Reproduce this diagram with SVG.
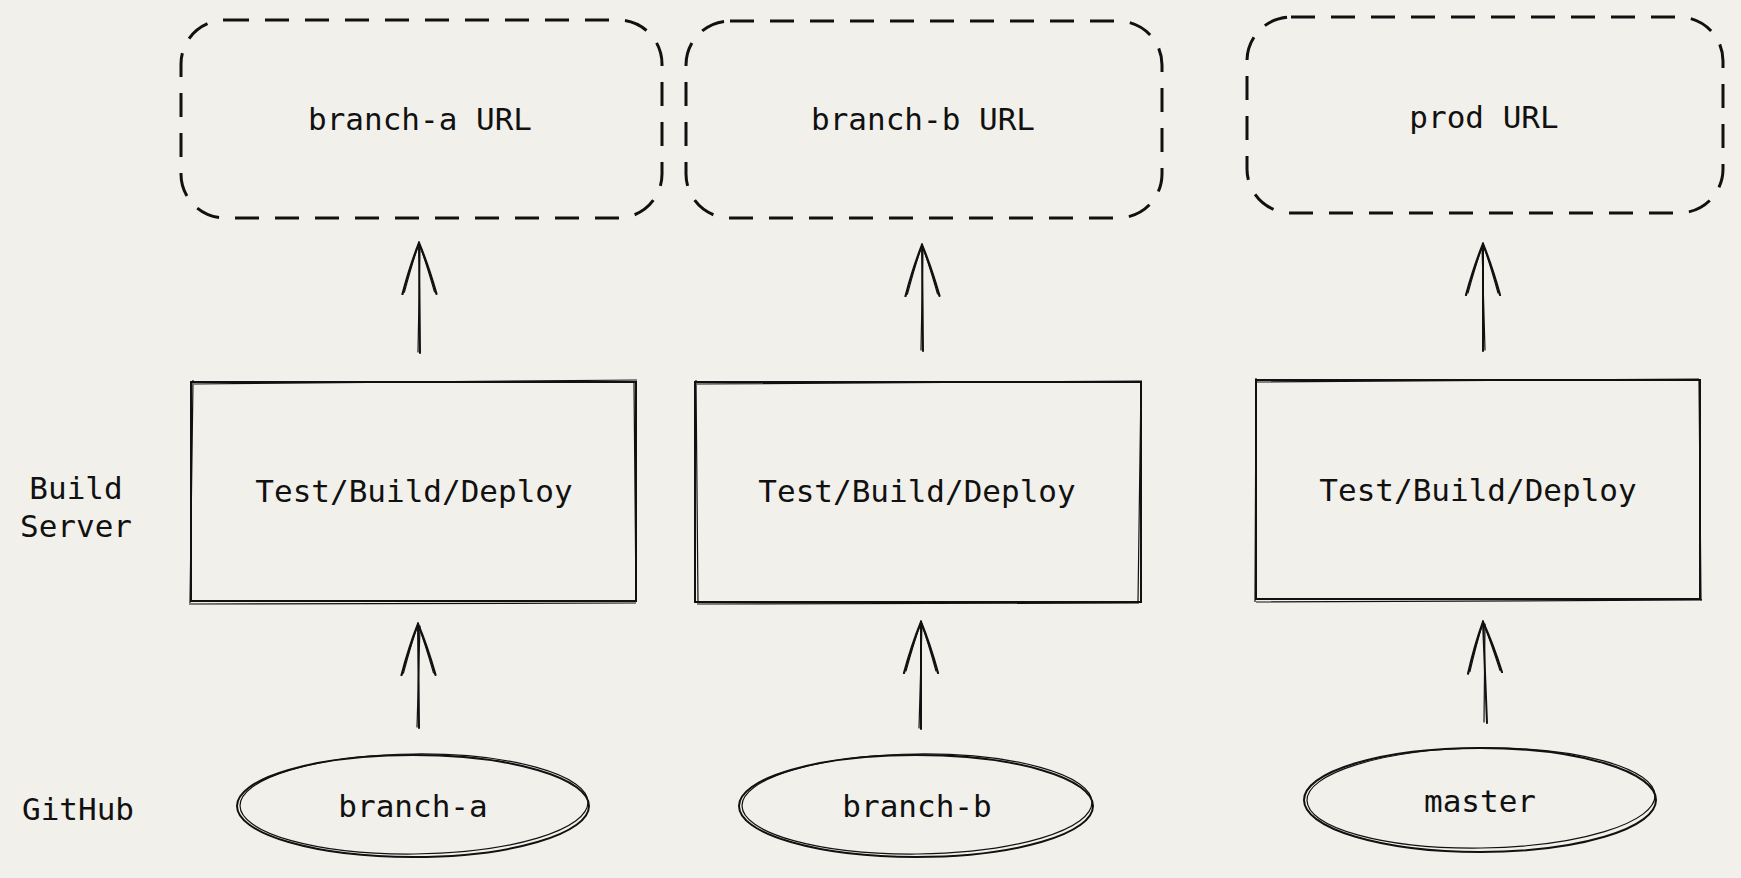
<svg xmlns="http://www.w3.org/2000/svg" width="1741" height="878" viewBox="0 0 1741 878">
<style>
.bg{fill:#f2f0ea}
.t{font-family:"DejaVu Sans Mono","Liberation Mono",monospace;font-size:31px;fill:#111;text-anchor:middle}
.dash{fill:none;stroke:#111;stroke-width:3;stroke-dasharray:24 16;stroke-linecap:butt}
.box{fill:none;stroke:#111;stroke-width:2}
.box2{fill:none;stroke:#111;stroke-width:1.2}
.ln{fill:none;stroke:#111;stroke-width:2;stroke-linecap:round}
.ln2{fill:none;stroke:#111;stroke-width:1.2;stroke-linecap:round}
</style>
<defs>
<marker id="head" viewBox="0 0 54 42" refX="52" refY="21" markerWidth="54" markerHeight="42" markerUnits="userSpaceOnUse" orient="auto">
<path d="M1,4 Q30,12 52,21 Q30,30 1,38" fill="none" stroke="#111" stroke-width="2.2" stroke-linecap="round"/>
<path d="M3,6 Q32,14 52,21 Q32,28 3,36" fill="none" stroke="#111" stroke-width="1.2" stroke-linecap="round"/>
</marker>
</defs>
<rect class="bg" x="0" y="0" width="1741" height="878"/>

<g id="lane-labels">
<text class="t" x="76" y="499">Build</text>
<text class="t" x="76" y="537">Server</text>
<text class="t" x="78" y="820">GitHub</text>
</g>

<g id="url-a">
<rect class="dash" x="181" y="20" width="481" height="198" rx="44"/>
<text class="t" x="420" y="130">branch-a URL</text>
</g>
<g id="url-b">
<rect class="dash" x="686" y="21" width="476" height="197" rx="44"/>
<text class="t" x="923" y="130">branch-b URL</text>
</g>
<g id="url-prod">
<rect class="dash" x="1247" y="17" width="476" height="196" rx="44"/>
<text class="t" x="1484" y="128">prod URL</text>
</g>

<g id="build-a">
<rect class="box" x="191" y="382" width="445" height="219"/>
<path class="box2" d="M194,384 L637,380 M193,380 L190,603 M189,604 L636,603 M634,383 L636,600"/>
<text class="t" x="414" y="502">Test/Build/Deploy</text>
</g>
<g id="build-b">
<rect class="box" x="695" y="382" width="446" height="220"/>
<path class="box2" d="M697,384 L1142,381 M696,380 L698,602 M697,604 L1139,603 M1141,383 L1138,602"/>
<text class="t" x="917" y="502">Test/Build/Deploy</text>
</g>
<g id="build-prod">
<rect class="box" x="1256" y="380" width="444" height="219"/>
<path class="box2" d="M1257,382 L1699,379 M1256,378 L1255,602 M1256,602 L1702,600 M1699,381 L1701,601"/>
<text class="t" x="1478" y="501">Test/Build/Deploy</text>
</g>

<g id="branch-a">
<ellipse class="box" cx="413" cy="806" rx="176" ry="51"/>
<ellipse class="box2" cx="414" cy="804" rx="174" ry="50" transform="rotate(-0.6 414 804)"/>
<text class="t" x="413" y="817">branch-a</text>
</g>
<g id="branch-b">
<ellipse class="box" cx="916" cy="806" rx="177" ry="51"/>
<ellipse class="box2" cx="917" cy="804" rx="175" ry="50" transform="rotate(-0.6 917 804)"/>
<text class="t" x="917" y="817">branch-b</text>
</g>
<g id="master">
<ellipse class="box" cx="1480" cy="800" rx="176" ry="52"/>
<ellipse class="box2" cx="1481" cy="798" rx="174" ry="50" transform="rotate(-0.8 1481 798)"/>
<text class="t" x="1480" y="812">master</text>
</g>

<g id="connectors">
<path class="ln" d="M420,353 L419,243" marker-end="url(#head)"/>
<path class="ln2" d="M418,352 L420,245"/>
<path class="ln" d="M923,351 L922,245" marker-end="url(#head)"/>
<path class="ln2" d="M921,350 L923,247"/>
<path class="ln" d="M1483,351 L1483,244" marker-end="url(#head)"/>
<path class="ln2" d="M1485,350 L1482,246"/>
<path class="ln" d="M419,728 L418,624" marker-end="url(#head)"/>
<path class="ln2" d="M417,727 L420,626"/>
<path class="ln" d="M921,729 L921,622" marker-end="url(#head)"/>
<path class="ln2" d="M919,728 L922,624"/>
<path class="ln" d="M1487,723 L1483,622" marker-end="url(#head)"/>
<path class="ln2" d="M1484,722 L1485,624"/>
</g>
</svg>
